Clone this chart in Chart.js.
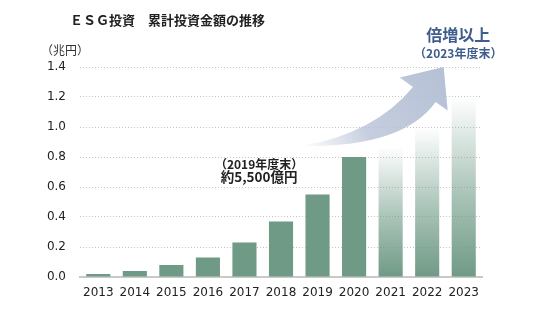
<!DOCTYPE html>
<html><head><meta charset="utf-8">
<script src="https://cdn.jsdelivr.net/npm/chart.js@4.4.0/dist/chart.umd.min.js"></script>
<style>html,body{margin:0;padding:0;background:#fff;}#wrap{position:relative;width:550px;height:324px;}</style>
</head><body><div id="wrap"><canvas id="c" width="550" height="324"></canvas></div>
<script>
const years = ['2013','2014','2015','2016','2017','2018','2019','2020','2021','2022','2023'];
const values = [0.02, 0.04, 0.08, 0.13, 0.23, 0.37, 0.55, 0.80, 0.87, 1.00, 1.20];
const projected = [false,false,false,false,false,false,false,false,true,true,true];
const yTicks = [0, 0.2, 0.4, 0.6, 0.8, 1.0, 1.2, 1.4];
const titleText = 'ＥＳＧ投資　累計投資金額の推移';
const unitText = '（兆円）';
const noteLines = ['（2019年度末）', '約5,500億円'];
const targetLines = ['倍増以上', '（2023年度末）'];
// arrow outline in data space [category index, value]
const arrowUpperStart = [5.55, 0.873];
const arrowUpperCtrl = [7.57, 0.957];
const arrowNeckUp = [8.61, 1.267];
const arrowBarbL = [8.25, 1.33];
const arrowTip = [9.45, 1.40];
const arrowBarbR = [9.56, 1.11];
const arrowNeckLow = [9.23, 1.167];
const arrowLowerCtrl = [8.35, 0.863];

const BAR = 'rgb(111,154,134)';
const JP = '"Noto Sans CJK JP", sans-serif';

const overlay = {
  id: 'overlay',
  beforeDatasetsDraw(chart) {
    const ctx = chart.ctx, xs = chart.scales.x, ys = chart.scales.y;
    const P = p => [xs.getPixelForValue(p[0]), ys.getPixelForValue(p[1])];
    const s = P(arrowUpperStart), c1 = P(arrowUpperCtrl), nu = P(arrowNeckUp), bl = P(arrowBarbL),
      t = P(arrowTip), br = P(arrowBarbR), nl = P(arrowNeckLow), c2 = P(arrowLowerCtrl);
    ctx.save();
    const g = ctx.createLinearGradient(s[0], s[1], t[0], t[1]);
    g.addColorStop(0, 'rgba(183,194,214,0)');
    g.addColorStop(0.4, 'rgba(183,194,214,0.8)');
    g.addColorStop(1, 'rgba(180,192,213,1)');
    ctx.fillStyle = g;
    ctx.beginPath();
    ctx.moveTo(s[0], s[1]);
    ctx.quadraticCurveTo(c1[0], c1[1], nu[0], nu[1]);
    ctx.lineTo(bl[0], bl[1]);
    ctx.lineTo(t[0], t[1]);
    ctx.lineTo(br[0], br[1]);
    ctx.lineTo(nl[0], nl[1]);
    ctx.quadraticCurveTo(c2[0], c2[1], s[0], s[1]);
    ctx.closePath();
    ctx.fill();
    ctx.restore();
  },
  afterDraw(chart) {
    const ctx = chart.ctx, xs = chart.scales.x, ys = chart.scales.y;
    ctx.save();
    ctx.textBaseline = 'middle';
    ctx.fillStyle = '#222';
    ctx.font = 'bold 13px ' + JP;
    ctx.textAlign = 'left';
    ctx.fillText(titleText, 70, 20);
    ctx.font = '12px ' + JP;
    ctx.fillStyle = '#333';
    ctx.fillText(unitText, 41, 50);
    ctx.textAlign = 'center';
    ctx.fillStyle = '#222';
    const nx = xs.getPixelForValue(4.4);
    ctx.font = 'bold 12px ' + JP;
    ctx.fillText(noteLines[0], nx, ys.getPixelForValue(0.752));
    ctx.font = 'bold 13.5px ' + JP;
    ctx.fillText(noteLines[1], nx, ys.getPixelForValue(0.668));
    ctx.fillStyle = '#3f5d8c';
    const tx = xs.getPixelForValue(9.85);
    ctx.font = 'bold 16px ' + JP;
    ctx.fillText(targetLines[0], tx, 35);
    ctx.font = 'bold 12px ' + JP;
    ctx.fillText(targetLines[1], tx, 53);
    ctx.restore();
  }
};

new Chart(document.getElementById('c'), {
  type: 'bar',
  data: {
    labels: years,
    datasets: [{
      data: values,
      backgroundColor(ctx) {
        const i = ctx.dataIndex;
        if (!projected[i]) return BAR;
        const chart = ctx.chart, ys = chart.scales.y;
        if (!ys || !chart.chartArea) return BAR;
        const top = ys.getPixelForValue(values[i]), bot = ys.getPixelForValue(0);
        const g = chart.ctx.createLinearGradient(0, bot, 0, top);
        g.addColorStop(0, 'rgba(111,154,134,1)');
        g.addColorStop(0.5, 'rgba(111,154,134,0.55)');
        g.addColorStop(1, 'rgba(111,154,134,0)');
        return g;
      },
      borderWidth: 0,
      barPercentage: 0.66,
      categoryPercentage: 1.0
    }]
  },
  options: {
    responsive: false,
    animation: false,
    devicePixelRatio: 1,
    layout: { padding: { left: 0, right: 68, top: 67, bottom: 0 } },
    plugins: { legend: { display: false }, tooltip: { enabled: false }, title: { display: false } },
    scales: {
      x: {
        grid: { display: false, drawTicks: false },
        border: { display: true, color: '#c9c9c9', width: 2 },
        ticks: { color: '#222', font: { family: '"DejaVu Sans"', size: 12 }, padding: 9, maxRotation: 0 },
        afterFit(s) { s.height = 47; }
      },
      y: {
        min: 0, max: 1.4,
        afterBuildTicks(s) { s.ticks = yTicks.map(v => ({ value: v })); },
        grid: {
          drawTicks: false,
          color: ctx => ctx.tick && ctx.tick.value === 0 ? 'rgba(0,0,0,0)' : '#c4c4c4',
          lineWidth: 1
        },
        border: { display: false, dash: [1, 2] },
        ticks: { color: '#222', font: { family: '"DejaVu Sans"', size: 12 }, padding: 14, callback: v => Number(v).toFixed(1) },
        afterFit(s) { s.width = 80; }
      }
    }
  },
  plugins: [overlay]
});
</script></body></html>
